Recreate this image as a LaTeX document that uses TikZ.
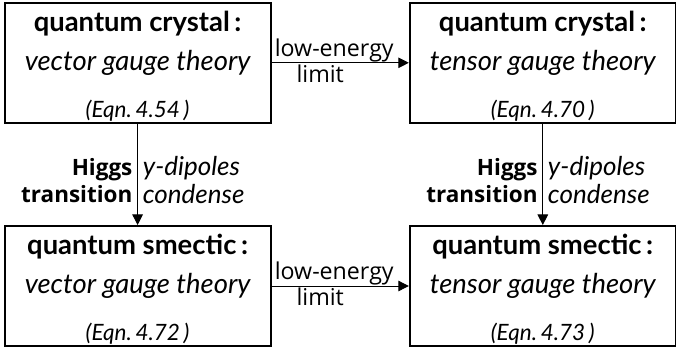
\documentclass[tikz,border=0pt]{standalone}
\usepackage{fontspec}
\setmainfont{Lato}
\newfontfamily\labelfont{Open Sans}
\usetikzlibrary{calc,arrows.meta}
\tikzset{phase/.style={draw, line width=1.4pt, minimum width=6.65cm, minimum height=3cm, inner sep=0pt},
         ttl/.style={font=\fontsize{19.5}{22}\selectfont\bfseries},
         thy/.style={font=\fontsize{19.5}{22}\selectfont\itshape},
         eqn/.style={font=\fontsize{16}{18}\selectfont\itshape},
         trans/.style={-{Triangle[length=7.5pt,width=7.5pt]}, line width=0.7pt},
         lbl/.style={font=\labelfont\fontsize{16.5}{19}\selectfont},
         hgs/.style={font=\labelfont\fontsize{16}{19}\selectfont\bfseries, align=right},
         cnd/.style={font=\fontsize{18.5}{20}\selectfont\itshape, align=left}}

\begin{document}
\begin{tikzpicture}
  \useasboundingbox (0,0) rectangle (16.9,8.85);

  % ---------- crystal phases (top row) ----------
  \node[phase] (crysvec) at (3.44,7.28) {};
  \node[ttl] at ($(crysvec.center)+(0,0.98)$) {quantum crystal\,:};
  \node[thy] at (crysvec.center) {vector gauge theory};
  \node[eqn] at ($(crysvec.center)+(0,-1.2)$) {(Eqn.\,4.54\,)};

  \node[phase] (crysten) at (13.57,7.28) {};
  \node[ttl] at ($(crysten.center)+(0,0.98)$) {quantum crystal\,:};
  \node[thy] at (crysten.center) {tensor gauge theory};
  \node[eqn] at ($(crysten.center)+(0,-1.2)$) {(Eqn.\,4.70\,)};

  % ---------- smectic phases (bottom row) ----------
  \node[phase] (smecvec) at (3.44,1.70) {};
  \node[ttl] at ($(smecvec.center)+(0,0.98)$) {quantum smectic\,:};
  \node[thy] at (smecvec.center) {vector gauge theory};
  \node[eqn] at ($(smecvec.center)+(0,-1.2)$) {(Eqn.\,4.72\,)};

  \node[phase] (smecten) at (13.57,1.70) {};
  \node[ttl] at ($(smecten.center)+(0,0.98)$) {quantum smectic\,:};
  \node[thy] at (smecten.center) {tensor gauge theory};
  \node[eqn] at ($(smecten.center)+(0,-1.2)$) {(Eqn.\,4.73\,)};

  % ---------- low-energy limits ----------
  \draw[trans] (crysvec.east) -- (crysten.west)
    node[lbl, midway, above=-3pt, xshift=-0.15cm] {low-energy}
    node[lbl, midway, below=-2pt, xshift=-0.5cm] {limit};
  \draw[trans] (smecvec.east) -- (smecten.west)
    node[lbl, midway, above=-3pt, xshift=-0.15cm] {low-energy}
    node[lbl, midway, below=-2pt, xshift=-0.5cm] {limit};

  % ---------- Higgs transitions ----------
  \draw[trans] (crysvec.south) -- (smecvec.north)
    node[hgs, midway, left, yshift=-0.15cm] {Higgs\\transition}
    node[cnd, midway, right, yshift=-0.15cm] {y-dipoles\\condense};
  \draw[trans] (crysten.south) -- (smecten.north)
    node[hgs, midway, left, yshift=-0.15cm] {Higgs\\transition}
    node[cnd, midway, right, yshift=-0.15cm] {y-dipoles\\condense};

\end{tikzpicture}
\end{document}
